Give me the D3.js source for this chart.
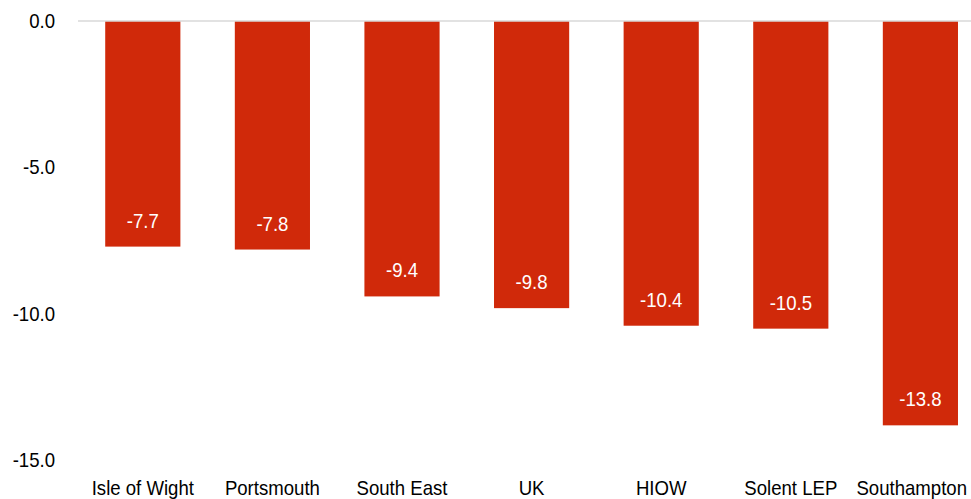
<!DOCTYPE html>
<html>
<head>
<meta charset="utf-8">
<script src="https://cdn.jsdelivr.net/npm/d3@7/dist/d3.min.js"></script>
<style>
  html, body { margin: 0; padding: 0; background: #ffffff; }
  svg { display: block; }
  text { font-family: "Liberation Sans Narrow", "Arial Narrow", "Liberation Sans", Arial, sans-serif; }
</style>
</head>
<body>
<svg id="chart" width="971" height="499"></svg>
<script>
const categories = ["Isle of Wight", "Portsmouth", "South East", "UK", "HIOW", "Solent LEP", "Southampton"];
const values = [-7.7, -7.8, -9.4, -9.8, -10.4, -10.5, -13.8];
const yTicks = [0, -5, -10, -15];

const W = 971;
const fontSize = 20;
const squeeze = "scale(0.93,1)";
const fmt = d => d.toFixed(1);

const svg = d3.select("#chart");
const margin = { top: 21, left: 78 };
const plotBottom = 460.5;

const x = d3.scaleBand()
  .domain(categories)
  .range([margin.left, margin.left + 7 * 129.6])
  .paddingInner(0.42)
  .paddingOuter(0.21);

const y = d3.scaleLinear()
  .domain([0, -15])
  .range([margin.top, plotBottom]);

// Y axis labels (no axis line, no ticks)
const gy = svg.append("g")
  .attr("transform", "translate(55,0)")
  .call(d3.axisLeft(y).tickValues(yTicks).tickFormat(fmt).tickSize(0).tickPadding(0));
gy.select(".domain").remove();
gy.selectAll("text")
  .attr("font-size", fontSize)
  .attr("fill", "#000")
  .attr("transform", squeeze)
  .style("font-family", null);

// Bars
svg.append("g").selectAll("rect")
  .data(values)
  .join("rect")
  .attr("x", (d, i) => x(categories[i]))
  .attr("y", y(0))
  .attr("width", x.bandwidth())
  .attr("height", d => y(d) - y(0))
  .attr("fill", "#d0290a");

// Zero baseline
svg.append("line")
  .attr("x1", margin.left).attr("x2", W)
  .attr("y1", y(0)).attr("y2", y(0))
  .attr("stroke", "#d9d9d9")
  .attr("stroke-width", 1.5);

// Value labels inside bars, near the bar ends
svg.append("g").selectAll("g")
  .data(values)
  .join("g")
  .attr("transform", (d, i) => `translate(${x(categories[i]) + x.bandwidth() / 2},${y(d) - 19})`)
  .append("text")
  .attr("text-anchor", "middle")
  .attr("font-size", fontSize)
  .attr("fill", "#ffffff")
  .attr("transform", squeeze)
  .text(fmt);

// Category labels
const gx = svg.append("g")
  .attr("transform", "translate(0,481)")
  .call(d3.axisBottom(x).tickSize(0).tickPadding(0));
gx.select(".domain").remove();
gx.selectAll("text")
  .attr("font-size", fontSize)
  .attr("fill", "#000")
  .attr("transform", squeeze)
  .style("font-family", null);

// Keep the last category label inside the chart area
gx.selectAll(".tick").each(function () {
  const box = this.getBoundingClientRect();
  if (box.right > W - 4) {
    const t = d3.select(this).select("text");
    t.attr("x", -(box.right - (W - 4)) / 0.93);
  }
});
</script>
</body>
</html>
